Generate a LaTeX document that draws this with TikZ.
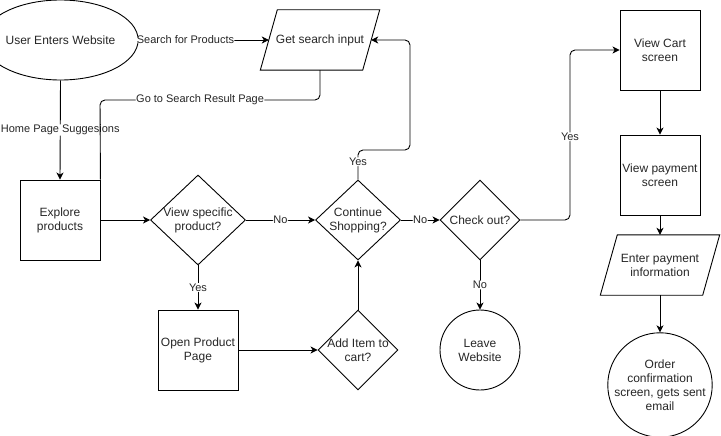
\documentclass[tikz,border=0pt]{standalone}
\usepackage{fontspec}
\setmainfont{Liberation Sans}
\usetikzlibrary{shapes.geometric,arrows.meta}
\begin{document}
\begin{tikzpicture}[x=1pt,y=-1pt,
  every node/.style={font=\fontsize{12}{14}\selectfont, text=black!85, align=center, inner sep=0pt},
  proc/.style={draw, line width=0.9pt, minimum width=80pt, minimum height=80pt},
  dia/.style={draw, line width=0.9pt, diamond, aspect=1},
  io/.style={minimum width=102pt, minimum height=60pt},
  ioline/.style={draw, line width=0.9pt, line join=miter},
  term/.style={draw, line width=0.9pt, circle},
  arr/.style={line width=0.9pt, -{Stealth[length=7pt,width=7pt,inset=2pt]}, rounded corners=5pt},
  con/.style={line width=0.9pt, rounded corners=5pt},
  lbl/.style={font=\fontsize{11}{13}\selectfont, fill=white, inner sep=0.5pt}
]
\useasboundingbox (0,0) rectangle (721,436);

\node[draw, line width=0.9pt, ellipse, minimum width=119pt, minimum height=80pt] (uew) at (60.5,40) {User Enters Website};
\node[io] (gsi) at (320,40) {Get search input};
\draw[ioline] ([xshift=8.5pt]gsi.north west) -- ([xshift=8.5pt]gsi.north east) -- ([xshift=-8.5pt]gsi.south east) -- ([xshift=-8.5pt]gsi.south west) -- cycle;
\node[proc] (ep) at (60,220) {Explore\\products};
\node[dia, minimum width=95pt, minimum height=90pt, label={[align=center, text=black!85]center:View specific\\product?}] (vsp) at (198,220) {};
\node[dia, minimum width=85pt, minimum height=80pt, label={[align=center, text=black!85]center:Continue\\Shopping?}] (csh) at (358,220) {};
\node[dia, minimum width=80pt, minimum height=80pt, label={[align=center, text=black!85]center:Check out?}] (co) at (480,220) {};
\node[proc] (opp) at (198,350) {Open Product\\Page};
\node[dia, minimum width=80pt, minimum height=80pt, label={[align=center, text=black!85]center:Add Item to\\cart?}] (ai) at (358,350) {};
\node[term, minimum size=80pt] (lw) at (480,350) {Leave\\Website};
\node[proc] (vc) at (660,50) {View Cart\\screen};
\node[proc] (vp) at (660,175) {View payment\\screen};
\node[io] (epi) at (660,265) {Enter payment\\information};
\draw[ioline] ([xshift=8.5pt]epi.north west) -- ([xshift=8.5pt]epi.north east) -- ([xshift=-8.5pt]epi.south east) -- ([xshift=-8.5pt]epi.south west) -- cycle;
\node[term, minimum size=100pt] (oc) at (660,385) {Order\\confirmation\\screen, gets sent\\email};

\draw[arr] (uew.east) -- node[lbl, pos=0.36]{Search for Products} (gsi.west);
\draw[arr] (uew.south) -- node[lbl]{Home Page Suggesions} (ep.north);
\draw[con] (gsi.south) -- (320,100) -- node[lbl, pos=0.545]{Go to Search Result Page} (100,100) -- (ep.north east);
\draw[arr] (ep.east) -- (vsp.west);
\draw[arr] (vsp.east) -- node[lbl]{No} (csh.west);
\draw[arr] (csh.east) -- node[lbl]{No} (co.west);
\draw[arr] (vsp.south) -- node[lbl]{Yes} (opp.north);
\draw[arr] (opp.east) -- (ai.west);
\draw[arr] (ai.north) -- (csh.south);
\draw[arr] (csh.north) -- node[lbl, pos=0.6]{Yes} (358,150) -- (410,150) -- (410,40) -- (gsi.east);
\draw[arr] (co.east) -- (570,220) -- node[lbl, pos=0.49]{Yes} (570,50) -- (vc.west);
\draw[arr] (co.south) -- node[lbl]{No} (lw.north);
\draw[arr] (vc.south) -- (vp.north);
\draw[arr] (vp.south) -- (epi.north);
\draw[arr] (epi.south) -- (oc.north);
\end{tikzpicture}
\end{document}
